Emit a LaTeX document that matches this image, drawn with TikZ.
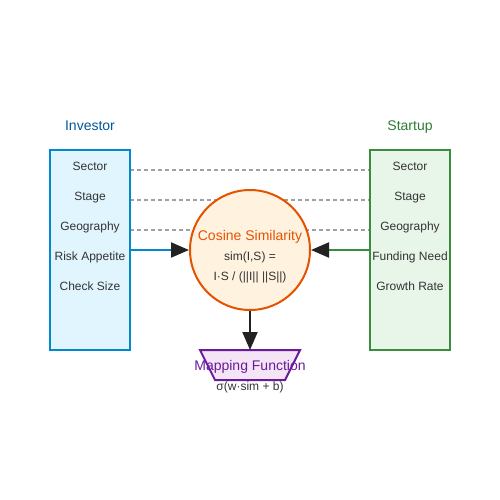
\documentclass[tikz,border=0pt]{standalone}
\usepackage{fontspec}
\setmainfont{Liberation Sans}
\usetikzlibrary{arrows.meta}
\definecolor{invstroke}{HTML}{0288D1}
\definecolor{invfill}{HTML}{E1F5FE}
\definecolor{invtext}{HTML}{01579B}
\definecolor{stastroke}{HTML}{388E3C}
\definecolor{stafill}{HTML}{E8F5E9}
\definecolor{statext}{HTML}{2E7D32}
\definecolor{cosstroke}{HTML}{E65100}
\definecolor{cosfill}{HTML}{FFF3E0}
\definecolor{mapstroke}{HTML}{6A1B9A}
\definecolor{mapfill}{HTML}{F3E5F5}
\definecolor{txt}{HTML}{333333}
\definecolor{dashgray}{HTML}{A0A0A0}
\definecolor{headblack}{HTML}{222222}
\tikzset{
  lbl/.style={font=\fontsize{12}{14}\selectfont, text=txt, inner sep=0pt, anchor=base},
  ttl/.style={font=\fontsize{14}{16}\selectfont, inner sep=0pt, anchor=base},
  dashline/.style={draw=dashgray, line width=1.3pt, dash pattern=on 4pt off 3pt},
  conn/.style={line width=2pt, -{Triangle[length=18pt,width=15pt,color=headblack]}},
}
\begin{document}
\begin{tikzpicture}[x=1pt,y=-1pt]
\useasboundingbox (0,0) rectangle (500,500);
% dashed lines behind circle
\coordinate (d1a) at (130,170); \coordinate (d1b) at (370,170);
\coordinate (d2a) at (130,200); \coordinate (d2b) at (370,200);
\coordinate (d3a) at (130,230); \coordinate (d3b) at (370,230);
\draw[dashline] (d1a) -- (d1b);
\draw[dashline] (d2a) -- (d2b);
\draw[dashline] (d3a) -- (d3b);
% boxes
\node[draw=invstroke, fill=invfill, line width=2pt, minimum width=80pt, minimum height=200pt, inner sep=0pt] (inv) at (90,250) {};
\node[draw=stastroke, fill=stafill, line width=2pt, minimum width=80pt, minimum height=200pt, inner sep=0pt] (sta) at (410,250) {};
\node[ttl, text=invtext] (invt) at (90,130) {Investor};
\node[ttl, text=statext] (stat) at (410,130) {Startup};
\node[lbl] (i1) at (90,170) {Sector};
\node[lbl] (i2) at (90,200) {Stage};
\node[lbl] (i3) at (90,230) {Geography};
\node[lbl] (i4) at (90,260) {Risk Appetite};
\node[lbl] (i5) at (90,290) {Check Size};
\node[lbl] (s1) at (410,170) {Sector};
\node[lbl] (s2) at (410,200) {Stage};
\node[lbl] (s3) at (410,230) {Geography};
\node[lbl] (s4) at (410,260) {Funding Need};
\node[lbl] (s5) at (410,290) {Growth Rate};
% circle
\node[circle, draw=cosstroke, fill=cosfill, line width=2pt, minimum size=120pt, inner sep=0pt] (cos) at (250,250) {};
\node[ttl, text=cosstroke] (cost) at (250,240) {Cosine Similarity};
\node[lbl] (cosf1) at (250,260) {sim(I,S) =};
\node[lbl] (cosf2) at (250,280) {I·S / (||I|| ||S||)};
% trapezoid
\coordinate (t1) at (200,350); \coordinate (t2) at (300,350);
\coordinate (t3) at (285,380); \coordinate (t4) at (215,380);
\draw[draw=mapstroke, fill=mapfill, line width=2pt] (t1) -- (t2) -- (t3) -- (t4) -- cycle;
\coordinate (maptop) at (250,350);
\node[ttl, text=mapstroke] (mapt) at (250,370) {Mapping Function};
\node[lbl] (mapf) at (250,390) {σ(w·sim + b)};
% connectors
\coordinate (ia) at (130,250); \coordinate (sa) at (370,250);
\draw[conn, invstroke] (ia) -- (cos.west);
\draw[conn, stastroke] (sa) -- (cos.east);
\draw[conn, headblack] (cos.south) -- (maptop);
\end{tikzpicture}
\end{document}
